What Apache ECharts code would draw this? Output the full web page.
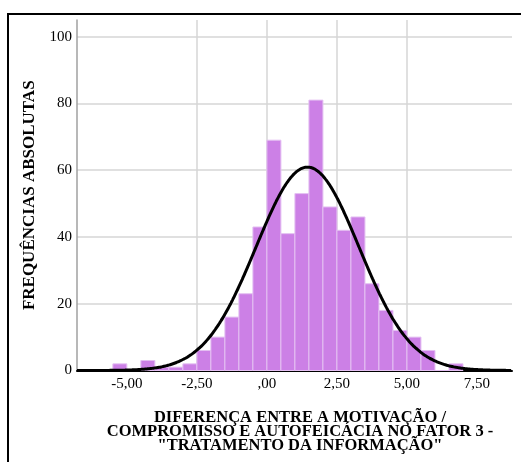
<!DOCTYPE html>
<html>
<head>
<meta charset="utf-8">
<script src="https://cdn.jsdelivr.net/npm/echarts@6/dist/echarts.min.js"></script>
<style>
html, body { margin: 0; padding: 0; background: #fff; }
#res { width: 521px; height: 462px; }
</style>
</head>
<body>
<div id="res"></div>
<script>
// histograma: inicio de cada classe (largura 0,5) e frequencias
var binStart = [-5.5, -5.0, -4.5, -4.0, -3.5, -3.0, -2.5, -2.0, -1.5, -1.0, -0.5, 0, 0.5,
                1.0, 1.5, 2.0, 2.5, 3.0, 3.5, 4.0, 4.5, 5.0, 5.5, 6.0, 6.5];
var counts = [2, 0, 3, 1, 1, 2, 6, 10, 16, 23, 43, 69, 41,
              53, 81, 49, 42, 46, 26, 18, 12, 10, 6, 0, 2];
var binWidth = 0.5;

// curva normal
var curveMean = 1.45;
var curveSd = 1.84;

var xTicks = [-5, -2.5, 0, 2.5, 5, 7.5];
var xTickLabels = ['-5,00', '-2,50', ',00', '2,50', '5,00', '7,50'];

var xMin = -6.78, xMax = 8.75;
var serif = "'Liberation Serif', 'Times New Roman', serif";

var n = 0;
for (var i = 0; i < counts.length; i++) n += counts[i];

var bars = [];
for (var i = 0; i < binStart.length; i++) {
    bars.push([binStart[i], binStart[i] + binWidth, counts[i]]);
}

var curve = [];
for (var x = xMin; x <= xMax + 0.001; x += 0.05) {
    var z = (x - curveMean) / curveSd;
    var y = n * binWidth / (curveSd * Math.sqrt(2 * Math.PI)) * Math.exp(-0.5 * z * z);
    curve.push([x, y]);
}

var myChart = echarts.init(document.getElementById('res'));
var option = {
    animation: false,
    grid: {
        left: 77,
        right: 9,
        top: 20,
        bottom: 91.5
    },
    xAxis: {
        type: 'value',
        min: xMin,
        max: xMax,
        axisLine: { lineStyle: { color: '#000', width: 2 } },
        axisTick: { show: false, customValues: xTicks },
        axisLabel: {
            customValues: xTicks,
            formatter: function(v) {
                var k = xTicks.indexOf(v);
                return k >= 0 ? xTickLabels[k] : '';
            },
            color: '#000',
            fontFamily: serif,
            fontSize: 15,
            margin: 6
        },
        splitLine: {
            show: true,
            showMinLine: false,
            showMaxLine: false,
            lineStyle: { color: '#d6d6d6', width: 1.5 }
        }
    },
    yAxis: {
        type: 'value',
        min: 0,
        max: 105,
        interval: 20,
        name: 'FREQUÊNCIAS ABSOLUTAS',
        nameLocation: 'middle',
        nameGap: 37,
        nameTextStyle: {
            color: '#000',
            fontFamily: serif,
            fontSize: 17,
            fontWeight: 'bold'
        },
        axisLine: { show: true, onZero: false, lineStyle: { color: '#a0a0a0', width: 1.5 } },
        axisTick: { show: false },
        axisLabel: {
            showMaxLabel: false,
            color: '#000',
            fontFamily: serif,
            fontSize: 15,
            margin: 5
        },
        splitLine: {
            show: true,
            showMinLine: false,
            showMaxLine: false,
            lineStyle: { color: '#d6d6d6', width: 1.5 }
        }
    },
    graphic: [{
        type: 'rect',
        shape: { x: 8, y: 14, width: 540, height: 480 },
        style: { fill: 'none', stroke: '#000', lineWidth: 2 },
        silent: true
    }, {
        type: 'text',
        x: 300,
        y: 410.5,
        style: {
            text: 'DIFERENÇA ENTRE A MOTIVAÇÃO /\nCOMPROMISSO E AUTOFEICÁCIA NO FATOR 3 -\n"TRATAMENTO DA INFORMAÇÃO"',
            align: 'center',
            verticalAlign: 'top',
            fill: '#000',
            font: 'bold 16.5px ' + serif,
            lineHeight: 14
        }
    }],
    series: [{
        type: 'custom',
        data: bars,
        encode: { x: [0, 1], y: 2 },
        z: 2,
        renderItem: function(params, api) {
            var p0 = api.coord([api.value(0), api.value(2)]);
            var p1 = api.coord([api.value(1), 0]);
            return {
                type: 'rect',
                shape: { x: p0[0], y: p0[1], width: p1[0] - p0[0], height: p1[1] - p0[1] },
                style: { fill: '#cc80e6', stroke: '#e4c0f2', lineWidth: 1 }
            };
        }
    }, {
        type: 'line',
        data: curve,
        showSymbol: false,
        smooth: true,
        z: 3,
        lineStyle: { color: '#000', width: 3 }
    }]
};
myChart.setOption(option);
</script>
</body>
</html>
